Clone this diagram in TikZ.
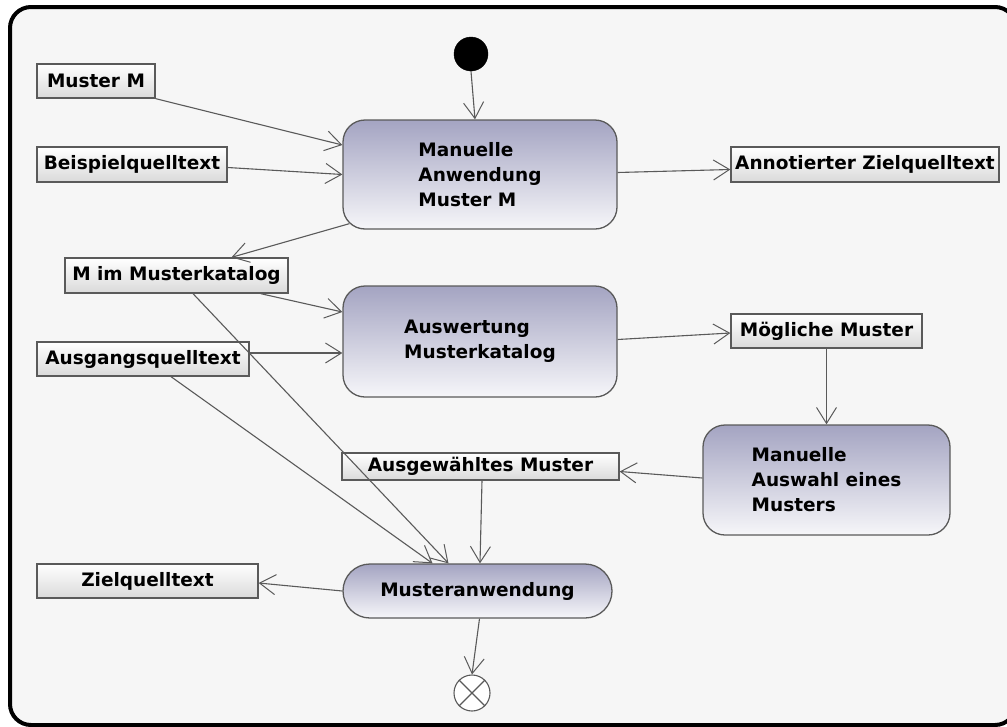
\documentclass[tikz,border=0pt]{standalone}
\usepackage{fontspec}
\setmainfont{DejaVu Sans}
\usetikzlibrary{arrows.meta,calc}

\definecolor{pagebg}{HTML}{F6F6F6}
\definecolor{linegray}{HTML}{5A5A5A}
\definecolor{acttop}{HTML}{A4A4C2}
\definecolor{actbot}{HTML}{F6F6F9}
\definecolor{objbot}{HTML}{DADADA}

\begin{document}
\begin{tikzpicture}[x=1pt,y=-1pt,
  txt/.style={font=\fontsize{18.5}{25}\selectfont\bfseries, text=black},
  activity/.style={txt, draw=linegray, line width=1.3pt, rounded corners=22pt,
    top color=acttop, bottom color=actbot, align=left, inner sep=0pt},
  objbox/.style={txt, draw=linegray, line width=1.3pt,
    top color=white, bottom color=objbot, inner sep=0pt},
  flow/.style={draw=linegray, line width=1.1pt,
    -{Straight Barb[length=16pt,width=20pt,line width=1pt]}},
]
\useasboundingbox (0,0) rectangle (1007,726);

% outer frame of the activity
\begin{scope}
  \clip (0,0) rectangle (1007,726);
  \fill[white] (0,0) rectangle (1007,726);
  \draw[line width=4pt, fill=pagebg, rounded corners=21pt] (10,7) rectangle (1016,725);
\end{scope}

% start and end
\node[circle, fill=black, draw=black, minimum size=34pt, inner sep=0pt] (ini) at (471,54) {};
\node[circle, fill=white, draw=linegray, line width=1.1pt, minimum size=36pt, inner sep=0pt] (fin) at (472,693) {};
\draw[linegray, line width=1.1pt] (fin.north east) -- (fin.south west)
      (fin.north west) -- (fin.south east);

% actions
\node[activity, minimum width=274pt, minimum height=109pt] (a1) at (480,174.5)
  {Manuelle\\Anwendung\\Muster M};
\node[activity, minimum width=274pt, minimum height=111pt] (a2) at (480,341.5)
  {Auswertung\\Musterkatalog};
\node[activity, minimum width=247pt, minimum height=110pt] (a3) at (826.5,480)
  {Manuelle\\Auswahl eines\\Musters};
\node[activity, rounded corners=27pt, minimum width=269pt, minimum height=54pt] (a4) at (477.5,591)
  {Musteranwendung};

% object nodes
\node[objbox, minimum width=118pt, minimum height=34pt] (mM) at (96,81) {Muster M};
\node[objbox, minimum width=190pt, minimum height=35pt] (bsp) at (132,164.5) {Beispielquelltext};
\node[objbox, minimum width=268pt, minimum height=35pt] (ann) at (865,164.5) {Annotierter Zielquelltext};
\node[objbox, minimum width=223pt, minimum height=35pt] (mkat) at (176.5,275.5) {M im Musterkatalog};
\node[objbox, minimum width=212pt, minimum height=34pt] (ausg) at (143,359) {Ausgangsquelltext};
\node[objbox, minimum width=191pt, minimum height=34pt] (moeg) at (826.5,331) {Mögliche Muster};
\node[objbox, minimum width=277pt, minimum height=27pt] (ausw) at (480.5,466.5) {Ausgewähltes Muster};
\node[objbox, minimum width=221pt, minimum height=34pt] (ziel) at (147.5,581) {Zielquelltext};

% flows
\draw[flow] (ini.south) -- ($(a1.north)+(-5,0)$);
\draw[flow] (mM.south east) -- ($(a1.west)+(0,-29.5)$);
\draw[flow] ($(bsp.east)+(0,3)$) -- (a1.west);
\draw[flow] ($(a1.east)+(0,-2)$) -- ($(ann.west)+(0,5)$);
\draw[flow] ($(a1.south west)+(7,-6)$) -- ($(mkat.north)+(55,0)$);
\draw[flow] ($(mkat.south east)+(-28,0)$) -- ($(a2.west)+(0,-29.5)$);
\draw[flow] ($(ausg.east)+(0,-6)$) -- ($(a2.west)+(0,11.5)$);
\draw[flow] ($(a2.east)+(0,-2)$) -- ($(moeg.west)+(0,2)$);
\draw[flow] (moeg.south) -- (a3.north);
\draw[flow] ($(a3.west)+(0,-2)$) -- ($(ausw.east)+(0,5)$);
\draw[flow] ($(ausw.south)+(1.5,0)$) -- ($(a4.north)+(2.5,0)$);
\draw[flow] ($(mkat.south)+(16.5,0)$) -- ($(a4.north)+(-29,0)$);
\draw[flow] ($(ausg.south)+(28,0)$) -- ($(a4.north)+(-45,0)$);
\draw[flow] (a4.west) -- ($(ziel.east)+(0,2)$);
\draw[flow] ($(a4.south)+(2,0)$) -- (fin.north);
\end{tikzpicture}
\end{document}
